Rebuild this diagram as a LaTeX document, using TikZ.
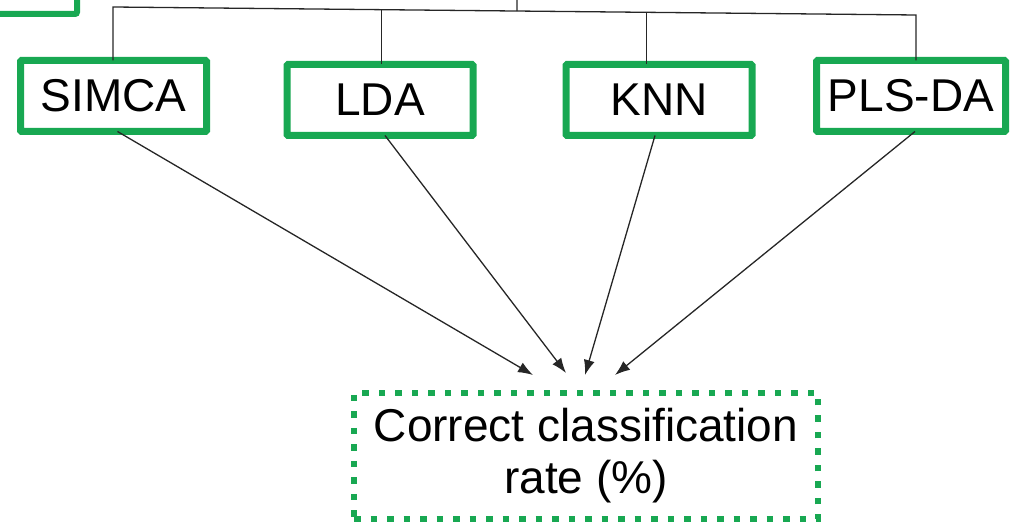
\documentclass[tikz,border=0pt]{standalone}
\usepackage{fontspec}
\setmainfont{Liberation Sans}
\usepackage{xcolor}
\usetikzlibrary{arrows.meta,calc}
\definecolor{boxgreen}{RGB}{24,168,82}

\begin{document}
\begin{tikzpicture}[x=1pt,y=-1pt,
		method/.style={draw=boxgreen, line width=7pt, rounded corners=1pt, inner sep=0pt, outer sep=0pt,
			minimum width=186pt, minimum height=71pt, font=\fontsize{46}{52}\selectfont},
		result/.style={draw=boxgreen, line width=6pt, dash pattern=on 6.5pt off 10pt, inner sep=0pt, outer sep=0pt,
			minimum width=464pt, minimum height=126pt, align=center, font=\fontsize{46}{52}\selectfont},
		link/.style={black!85, line width=1.3pt},
		arr/.style={link, -{Latex[length=15pt,width=11pt]}}]
			\useasboundingbox (0,0) rectangle (1013,526);
			% box above, cut by the page edge
			\node[draw=boxgreen, line width=6pt, rounded corners=2pt, inner sep=0pt, outer sep=0pt,
				minimum width=100pt, minimum height=60pt] (top) at (27,-16) {};
			% classifiers
			\node[method] (simca) at (113.5,96) {SIMCA};
			\node[method] (lda) at (380,100) {LDA};
			\node[method] (knn) at (659,100) {KNN};
			\node[method, minimum width=189pt] (plsda) at (911,96) {PLS-DA};
			\node[result] (rate) at (586,456) {\raisebox{-4pt}{Correct classification}\\\raisebox{-4pt}{rate (\%)}};
			% tree from above
			\coordinate (trunk) at (517,0);
			\coordinate (b1) at (113,7);
			\coordinate (b4) at (916,15);
			\coordinate (b2) at ($(b1)!0.334!(b4)$);
			\coordinate (b3) at ($(b1)!0.664!(b4)$);
			\draw[link] (trunk) -- ($(b1)!0.503!(b4)$);
			\draw[link] (b1 |- simca.north) -- (b1) -- (b4) -- (b4 |- plsda.north);
			\draw[link] (b2) -- (b2 |- lda.north);
			\draw[link] (b3) -- (b3 |- knn.north);
			% arrows to the result
			\coordinate (t1) at (533,375);
			\coordinate (t2) at (566,373);
			\coordinate (t3) at (585,375);
			\coordinate (t4) at (615,375);
			\draw[arr] ([xshift=4pt]simca.south) -- (t1);
			\draw[arr] ([xshift=5pt]lda.south) -- (t2);
			\draw[arr] ([xshift=-4pt]knn.south) -- (t3);
			\draw[arr] ([xshift=4pt]plsda.south) -- (t4);
		\end{tikzpicture}
\end{document}
